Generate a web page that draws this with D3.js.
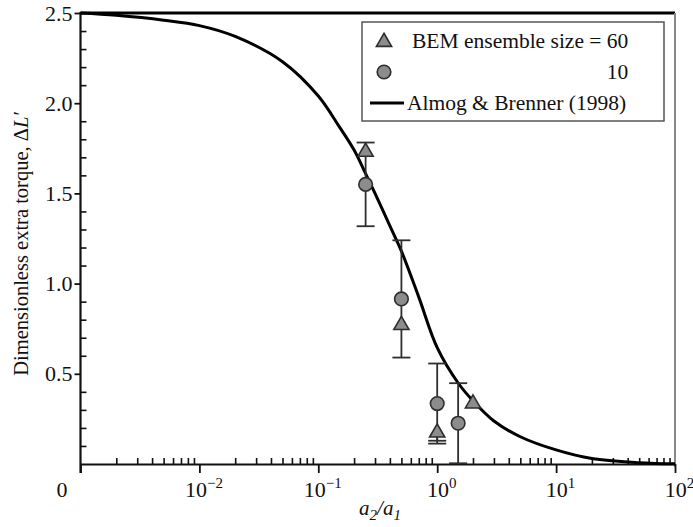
<!DOCTYPE html>
<html>
<head>
<meta charset="utf-8">
<script src="https://cdn.jsdelivr.net/npm/d3@7/dist/d3.min.js"></script>
<style>
  html, body { margin: 0; padding: 0; background: #fff; }
  svg { display: block; }
</style>
</head>
<body>
<svg id="chart" width="693" height="527"></svg>
<script>
// ---- data ----
const curveX = [0.001, 0.002, 0.005, 0.01, 0.02, 0.05, 0.1, 0.15, 0.2, 0.25, 0.3, 0.4, 0.5, 0.7, 1.0, 1.5, 2.0, 3.0, 5.0, 10, 20, 50, 100];
const curveY = [2.50, 2.487, 2.46, 2.43, 2.37, 2.23, 2.04, 1.87, 1.74, 1.61, 1.50, 1.32, 1.18, 0.925, 0.645, 0.449, 0.35, 0.238, 0.151, 0.078, 0.03, 0.007, 0.001];

const triX = [0.25, 0.5, 1.0, 2.0];
const triY = [1.73, 0.77, 0.174, 0.335];
const triErrLow = [0, 0, 0.045, 0];

const circX = [0.25, 0.5, 1.0, 1.5];
const circY = [1.55, 0.915, 0.335, 0.226];
const circErr = [0.232, 0.325, 0.222, 0.222];

const xMajorTicks = [0.001, 0.01, 0.1, 1, 10, 100];
const xMajorLabels = ["0", "10|−2", "10|−1", "10|0", "10|1", "10|2"];
const yMajorTicks = [0.5, 1.0, 1.5, 2.0, 2.5];
const yMajorLabels = ["0.5", "1.0", "1.5", "2.0", "2.5"];
const yMinorTicks = [0.1, 0.2, 0.3, 0.4, 0.6, 0.7, 0.8, 0.9, 1.1, 1.2, 1.3, 1.4, 1.6, 1.7, 1.8, 1.9, 2.1, 2.2, 2.3, 2.4];

const legendLabels = ["BEM ensemble size = 60", "10", "Almog & Brenner (1998)"];
const yTitle = ["Dimensionless extra torque, Δ", "L′"];

// ---- layout ----
const FONT = "'Liberation Serif', 'Times New Roman', serif";
const L = 80.5, R = 675, T = 13, B = 464;
const svg = d3.select("#chart");
const x = d3.scaleLog().domain([1e-3, 1e2]).range([L, R]);
const y = d3.scaleLinear().domain([0, 2.5]).range([B, T]);

const markFill = "#8c8c8c", markStroke = "#2e2e2e";

// frame: top and right
svg.append("line").attr("x1", L).attr("x2", R).attr("y1", T).attr("y2", T)
  .attr("stroke", "#000").attr("stroke-width", 3);
svg.append("line").attr("x1", R).attr("x2", R).attr("y1", T).attr("y2", B + 3)
  .attr("stroke", "#888").attr("stroke-width", 2);

// x minor ticks (inward)
const xMinor = x.ticks().filter(v => !xMajorTicks.some(m => Math.abs(Math.log10(v) - Math.log10(m)) < 1e-6));
const gxMinor = svg.append("g").attr("transform", `translate(0,${B})`)
  .call(d3.axisBottom(x).tickValues(xMinor).tickSizeInner(-6).tickSizeOuter(0).tickFormat(""));
gxMinor.select(".domain").remove();
gxMinor.selectAll("line").attr("stroke", "#111").attr("stroke-width", 1.6);

// x major ticks (outward)
const gx = svg.append("g").attr("transform", `translate(0,${B})`)
  .call(d3.axisBottom(x).tickValues(xMajorTicks).tickSizeInner(9).tickSizeOuter(0).tickFormat(""));
gx.select(".domain").attr("stroke", "#111").attr("stroke-width", 2.2);
gx.selectAll("line").attr("stroke", "#111").attr("stroke-width", 1.8);
gx.selectAll(".tick").each(function(d, i) {
  const parts = xMajorLabels[i].split("|");
  const t = d3.select(this).append("text")
    .attr("y", 33).attr("text-anchor", "middle")
    .attr("font-size", 22).attr("fill", "#111");
  if (parts.length === 1) {
    t.attr("x", -19).text(parts[0]);
  } else {
    t.attr("x", 4);
    t.append("tspan").text(parts[0]);
    t.append("tspan").attr("font-size", 15).attr("dy", -9).text(parts[1]);
  }
});

// y minor ticks (inward)
const gyMinor = svg.append("g").attr("transform", `translate(${L},0)`)
  .call(d3.axisLeft(y).tickValues(yMinorTicks).tickSizeInner(-6).tickSizeOuter(0).tickFormat(""));
gyMinor.select(".domain").remove();
gyMinor.selectAll("line").attr("stroke", "#111").attr("stroke-width", 1.6);

// y major ticks (outward)
const gy = svg.append("g").attr("transform", `translate(${L},0)`)
  .call(d3.axisLeft(y).tickValues(yMajorTicks).tickSizeInner(6).tickSizeOuter(0)
        .tickFormat((d, i) => yMajorLabels[i]));
gy.select(".domain").remove();
gy.selectAll("line").attr("stroke", "#111").attr("stroke-width", 1.8);
gy.selectAll("text").attr("font-size", 22).attr("x", -8).attr("fill", "#111");
// y axis line (extends below x axis)
svg.append("line").attr("x1", L).attr("x2", L).attr("y1", T - 1).attr("y2", B + 9)
  .attr("stroke", "#111").attr("stroke-width", 2.2);

// curve
const pts = curveX.map((d, i) => [x(d), y(curveY[i])]);
svg.append("path").attr("d", d3.line().curve(d3.curveCatmullRom.alpha(0.5))(pts))
  .attr("fill", "none").attr("stroke", "#000").attr("stroke-width", 3);

// error bars
const capW = 9;
function errBar(px, y0, y1, lower, upper) {
  svg.append("line").attr("x1", px).attr("x2", px).attr("y1", y0).attr("y2", y1)
    .attr("stroke", markStroke).attr("stroke-width", 1.8);
  if (upper) svg.append("line").attr("x1", px - capW).attr("x2", px + capW).attr("y1", y0).attr("y2", y0)
    .attr("stroke", markStroke).attr("stroke-width", 1.8);
  if (lower) svg.append("line").attr("x1", px - capW).attr("x2", px + capW).attr("y1", y1).attr("y2", y1)
    .attr("stroke", markStroke).attr("stroke-width", 1.8);
}
circX.forEach((d, i) => {
  errBar(x(d), y(circY[i] + circErr[i]), y(circY[i] - circErr[i]), true, true);
});
triX.forEach((d, i) => {
  if (triErrLow[i] > 0) errBar(x(d), y(triY[i]), y(triY[i] - triErrLow[i]), true, false);
});

// markers
const triPath = d3.symbol().type(d3.symbolTriangle).size(100)();
svg.selectAll(".tri").data(triX).enter().append("path")
  .attr("d", triPath)
  .attr("transform", (d, i) => `translate(${x(d)},${y(triY[i])})`)
  .attr("fill", markFill).attr("stroke", markStroke).attr("stroke-width", 1.6);
svg.selectAll(".circ").data(circX).enter().append("circle")
  .attr("cx", d => x(d)).attr("cy", (d, i) => y(circY[i])).attr("r", 6.8)
  .attr("fill", markFill).attr("stroke", markStroke).attr("stroke-width", 1.6);

// legend
const lg = svg.append("g");
lg.append("rect").attr("x", 362).attr("y", 22).attr("width", 302).attr("height", 99)
  .attr("fill", "#fff").attr("stroke", "#555").attr("stroke-width", 1.5);
lg.append("path").attr("d", triPath).attr("transform", "translate(384,42)")
  .attr("fill", markFill).attr("stroke", markStroke).attr("stroke-width", 1.6);
lg.append("circle").attr("cx", 384).attr("cy", 72).attr("r", 6.8)
  .attr("fill", markFill).attr("stroke", markStroke).attr("stroke-width", 1.6);
lg.append("line").attr("x1", 370).attr("x2", 404).attr("y1", 103).attr("y2", 103)
  .attr("stroke", "#000").attr("stroke-width", 3);
const t0 = lg.append("text").attr("x", 412).attr("y", 48).attr("font-size", 21.5).attr("font-family", FONT).text(legendLabels[0]);
const endX = 412 + t0.node().getComputedTextLength();
lg.append("text").attr("x", endX).attr("y", 79).attr("font-size", 21.5).attr("text-anchor", "end").text(legendLabels[1]);
lg.append("text").attr("x", 407).attr("y", 110).attr("font-size", 21.5).text(legendLabels[2]);

// axis titles
const xt = svg.append("text").attr("x", 380).attr("y", 515).attr("text-anchor", "middle")
  .attr("font-size", 21).attr("font-style", "italic");
xt.append("tspan").text("a");
xt.append("tspan").attr("font-size", 15).attr("dy", 5).text("2");
xt.append("tspan").attr("dy", -5).text("/a");
xt.append("tspan").attr("font-size", 15).attr("dy", 5).text("1");

const yt = svg.append("text")
  .attr("transform", `translate(28,244) rotate(-90)`)
  .attr("text-anchor", "middle").attr("font-size", 20.5);
yt.append("tspan").text(yTitle[0]);
yt.append("tspan").attr("font-style", "italic").text(yTitle[1]);

svg.selectAll("text").attr("font-family", FONT).style("font-family", FONT).style("fill", "#111");
</script>
</body>
</html>
